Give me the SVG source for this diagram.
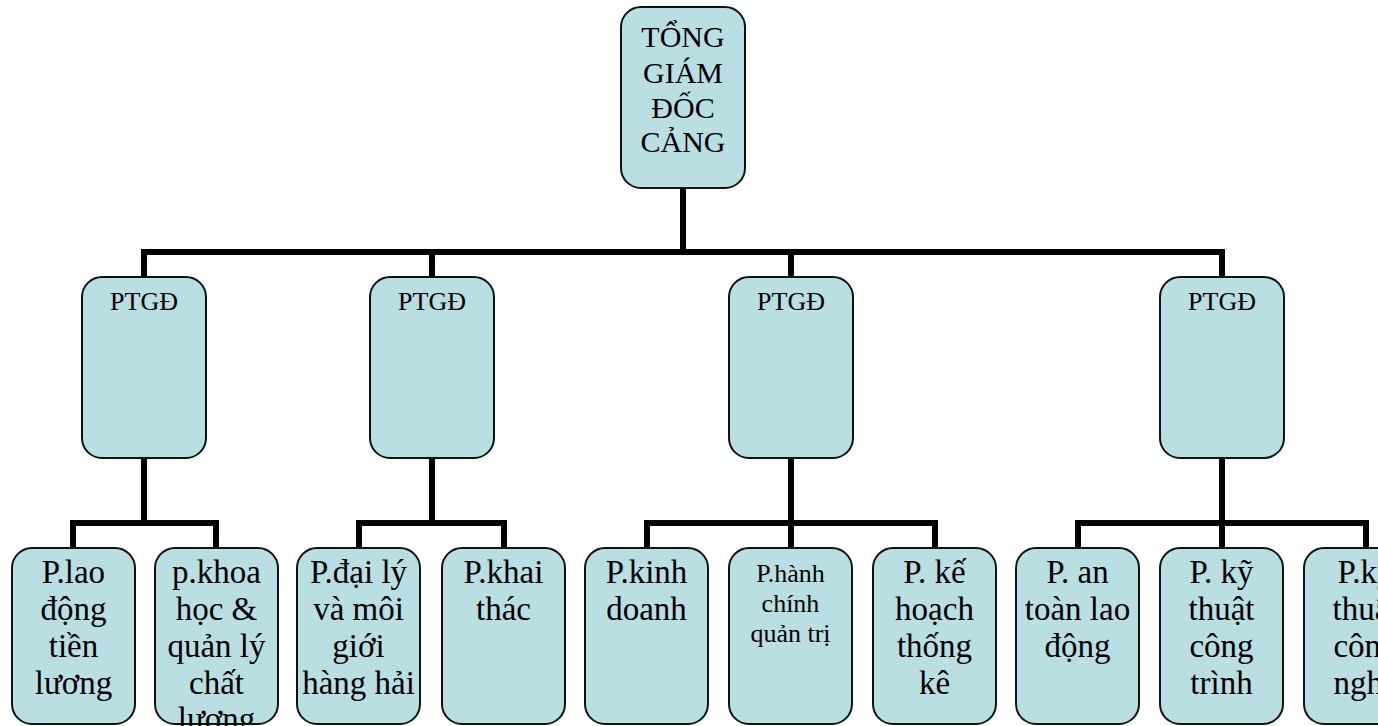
<svg xmlns="http://www.w3.org/2000/svg" width="1378" height="726" viewBox="0 0 1378 726">
  <style>
    .box { fill: #BADFE3; stroke: #111; stroke-width: 2; }
    .link { fill: none; stroke: #000; stroke-width: 6; stroke-linejoin: miter; stroke-linecap: butt; }
    text { font-family: "Liberation Serif", "Times New Roman", serif; fill: #000; text-anchor: middle; }
    .t-top { font-size: 30px; }
    .t-mid { font-size: 26px; }
    .t-leaf { font-size: 33px; }
    .t-small { font-size: 26px; }
  </style>

  <!-- connectors -->
  <g id="connectors">
    <path class="link" d="M683 188 V252"/>
    <path class="link" d="M144 277 V252 H1222 V277"/>
    <path class="link" d="M432 252 V277"/>
    <path class="link" d="M791 252 V277"/>

    <path class="link" d="M144 458 V523"/>
    <path class="link" d="M73 548 V523 H216 V548"/>

    <path class="link" d="M432 458 V523"/>
    <path class="link" d="M359 548 V523 H504 V548"/>

    <path class="link" d="M791 458 V548"/>
    <path class="link" d="M647 548 V523 H935 V548"/>

    <path class="link" d="M1222 458 V548"/>
    <path class="link" d="M1078 548 V523 H1366 V548"/>
  </g>

  <!-- root -->
  <g id="node-tgd">
    <rect class="box" x="621" y="7" width="124" height="181" rx="20"/>
    <text class="t-top" x="683" y="47">TỔNG</text>
    <text class="t-top" x="683" y="83">GIÁM</text>
    <text class="t-top" x="683" y="118">ĐỐC</text>
    <text class="t-top" x="683" y="152">CẢNG</text>
  </g>

  <!-- deputy directors -->
  <g id="node-ptgd-1">
    <rect class="box" x="82" y="277" width="124" height="181" rx="20"/>
    <text class="t-mid" x="144" y="310">PTGĐ</text>
  </g>
  <g id="node-ptgd-2">
    <rect class="box" x="370" y="277" width="124" height="181" rx="20"/>
    <text class="t-mid" x="432" y="310">PTGĐ</text>
  </g>
  <g id="node-ptgd-3">
    <rect class="box" x="729" y="277" width="124" height="181" rx="20"/>
    <text class="t-mid" x="791" y="310">PTGĐ</text>
  </g>
  <g id="node-ptgd-4">
    <rect class="box" x="1160" y="277" width="124" height="181" rx="20"/>
    <text class="t-mid" x="1222" y="310">PTGĐ</text>
  </g>

  <!-- departments -->
  <g id="node-lao-dong-tien-luong">
    <rect class="box" x="12" y="548" width="123" height="176" rx="20"/>
    <text class="t-leaf" x="73.5" y="583">P.lao</text>
    <text class="t-leaf" x="73.5" y="620">động</text>
    <text class="t-leaf" x="73.5" y="657">tiền</text>
    <text class="t-leaf" x="73.5" y="693.5">lương</text>
  </g>
  <g id="node-khoa-hoc-chat-luong">
    <rect class="box" x="155" y="548" width="123" height="176" rx="20"/>
    <text class="t-leaf" x="216.5" y="583">p.khoa</text>
    <text class="t-leaf" x="216.5" y="620">học &amp;</text>
    <text class="t-leaf" x="216.5" y="657">quản lý</text>
    <text class="t-leaf" x="216.5" y="693.5">chất</text>
    <text class="t-leaf" x="216.5" y="730">lượng</text>
  </g>
  <g id="node-dai-ly-hang-hai">
    <rect class="box" x="297" y="548" width="123" height="176" rx="20"/>
    <text class="t-leaf" x="358.5" y="583">P.đại lý</text>
    <text class="t-leaf" x="358.5" y="620">và môi</text>
    <text class="t-leaf" x="358.5" y="657">giới</text>
    <text class="t-leaf" x="358.5" y="693.5">hàng hải</text>
  </g>
  <g id="node-khai-thac">
    <rect class="box" x="442" y="548" width="123" height="176" rx="20"/>
    <text class="t-leaf" x="503.5" y="583">P.khai</text>
    <text class="t-leaf" x="503.5" y="620">thác</text>
  </g>
  <g id="node-kinh-doanh">
    <rect class="box" x="585" y="548" width="123" height="176" rx="20"/>
    <text class="t-leaf" x="646.5" y="583">P.kinh</text>
    <text class="t-leaf" x="646.5" y="620">doanh</text>
  </g>
  <g id="node-hanh-chinh">
    <rect class="box" x="729" y="548" width="123" height="176" rx="20"/>
    <text class="t-small" x="790.5" y="582">P.hành</text>
    <text class="t-small" x="790.5" y="612">chính</text>
    <text class="t-small" x="790.5" y="642">quản trị</text>
  </g>
  <g id="node-ke-hoach">
    <rect class="box" x="873" y="548" width="123" height="176" rx="20"/>
    <text class="t-leaf" x="934.5" y="583">P. kế</text>
    <text class="t-leaf" x="934.5" y="620">hoạch</text>
    <text class="t-leaf" x="934.5" y="657">thống</text>
    <text class="t-leaf" x="934.5" y="693.5">kê</text>
  </g>
  <g id="node-an-toan">
    <rect class="box" x="1016" y="548" width="123" height="176" rx="20"/>
    <text class="t-leaf" x="1077.5" y="583">P. an</text>
    <text class="t-leaf" x="1077.5" y="620">toàn lao</text>
    <text class="t-leaf" x="1077.5" y="657">động</text>
  </g>
  <g id="node-ky-thuat-cong-trinh">
    <rect class="box" x="1160" y="548" width="123" height="176" rx="20"/>
    <text class="t-leaf" x="1221.5" y="583">P. kỹ</text>
    <text class="t-leaf" x="1221.5" y="620">thuật</text>
    <text class="t-leaf" x="1221.5" y="657">công</text>
    <text class="t-leaf" x="1221.5" y="693.5">trình</text>
  </g>
  <g id="node-ky-thuat-cong-nghe">
    <rect class="box" x="1304" y="548" width="123" height="176" rx="20"/>
    <text class="t-leaf" x="1365.5" y="583">P.kỹ</text>
    <text class="t-leaf" x="1365.5" y="620">thuật</text>
    <text class="t-leaf" x="1365.5" y="657">công</text>
    <text class="t-leaf" x="1365.5" y="693.5">nghệ</text>
  </g>
</svg>
